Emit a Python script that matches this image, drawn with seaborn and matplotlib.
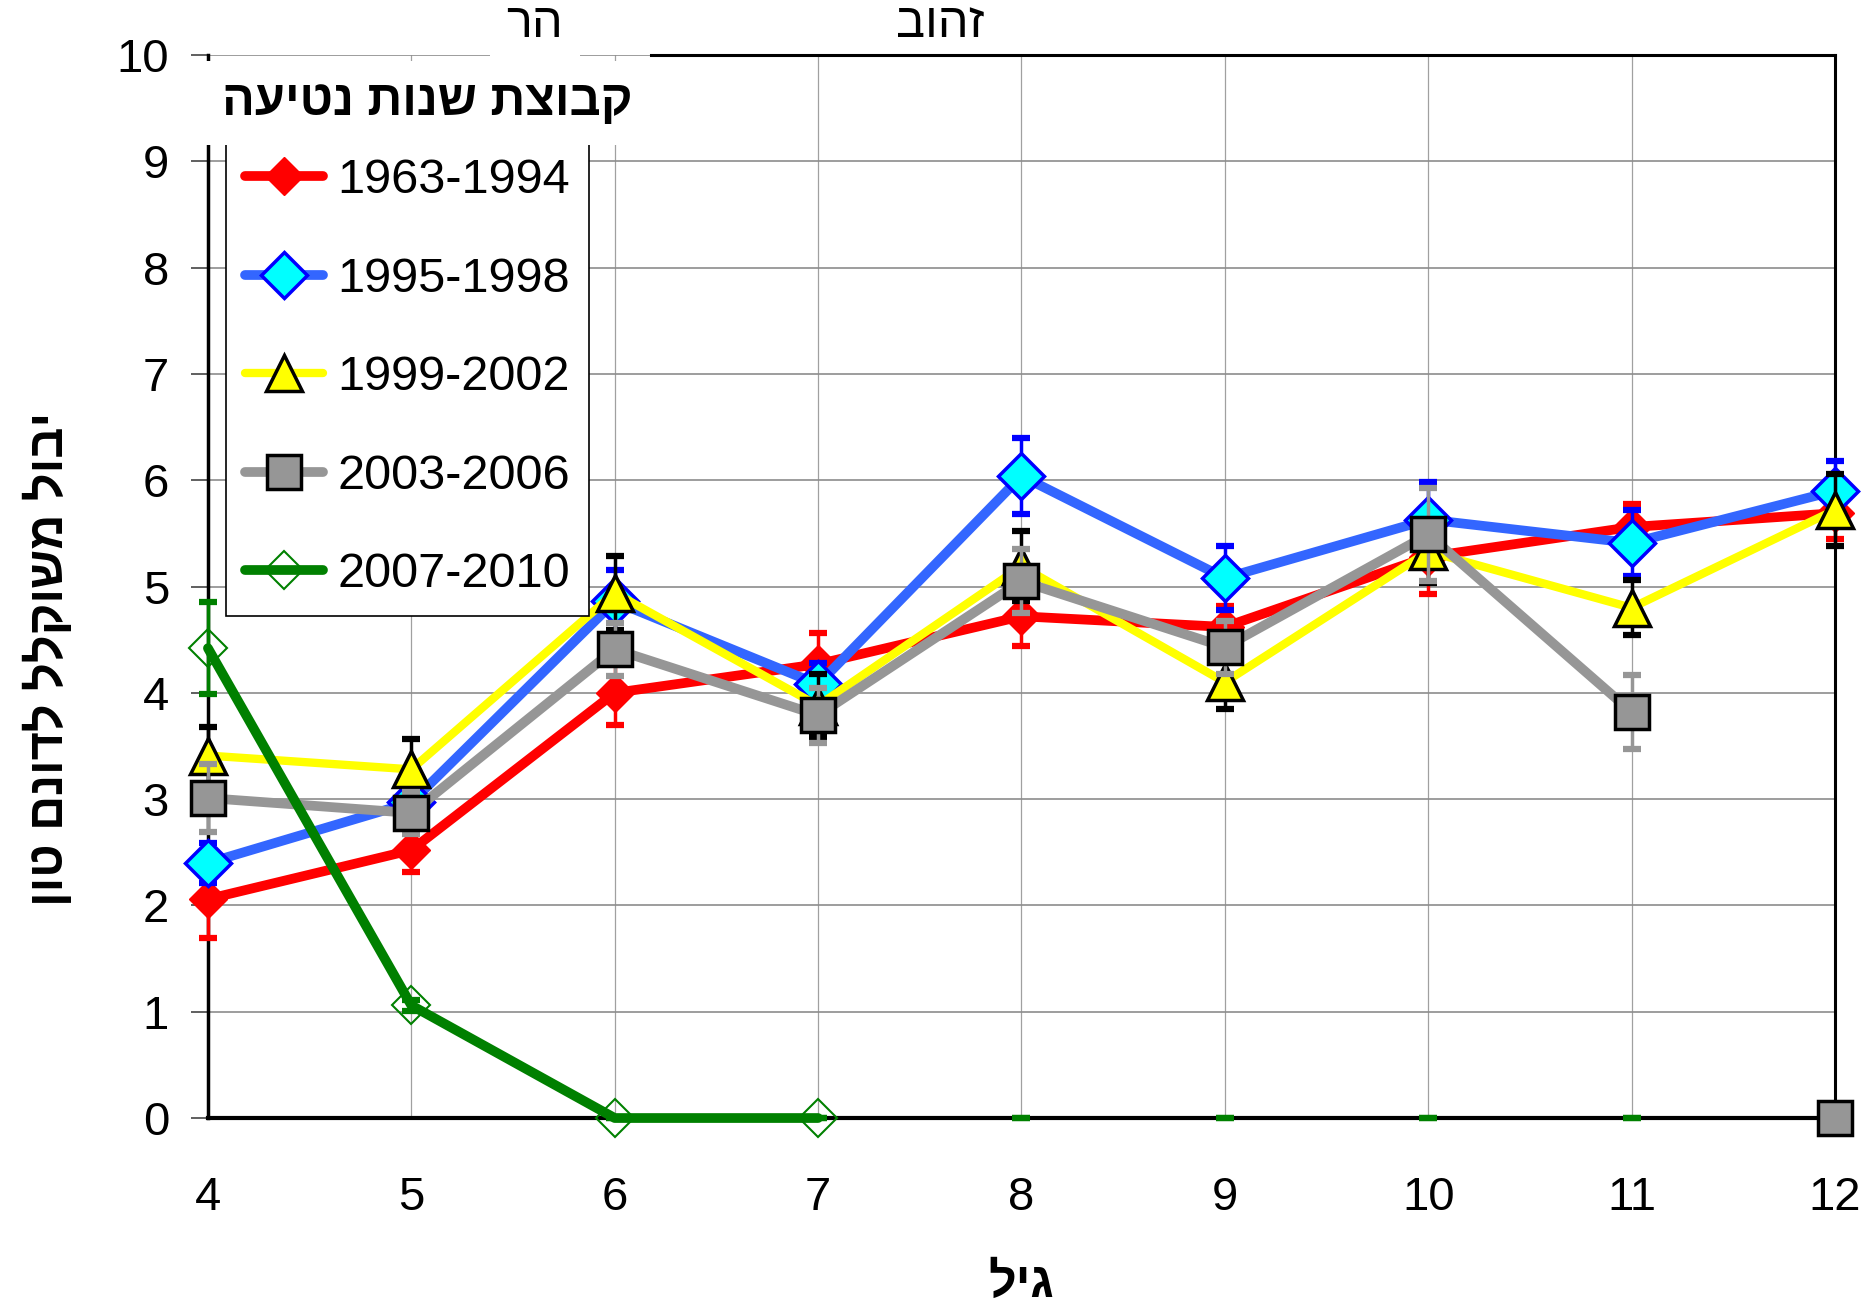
import matplotlib
matplotlib.use("Agg")
import matplotlib.pyplot as plt
import seaborn as sns
import pandas as pd

# values
ages = [4, 5, 6, 7, 8, 9, 10, 11, 12]

y_1963 = [2.06, 2.52, 4.00, 4.27, 4.72, 4.62, 5.28, 5.56, 5.69]
e_1963 = [0.37, 0.21, 0.30, 0.29, 0.28, 0.20, 0.35, 0.22, 0.24]

y_1995 = [2.40, 2.97, 4.86, 4.08, 6.04, 5.08, 5.63, 5.41, 5.90]
e_1995 = [0.19, 0.20, 0.30, 0.20, 0.36, 0.30, 0.35, 0.31, 0.28]

y_1999 = [3.41, 3.28, 4.94, 3.88, 5.19, 4.10, 5.33, 4.80, 5.72]
e_1999 = [0.27, 0.29, 0.35, 0.30, 0.33, 0.25, 0.30, 0.26, 0.34]

y_2003 = [3.01, 2.87, 4.41, 3.79, 5.05, 4.43, 5.49, 3.82, 0.0]
e_2003 = [0.32, 0.20, 0.25, 0.26, 0.30, 0.25, 0.44, 0.35, 0.0]
n_line_2003 = 8   # last point (age 12) is not joined to the line

y_2007 = [4.42, 1.06, 0.0, 0.0, 0.0, 0.0, 0.0, 0.0, 0.0]
e_2007 = [0.43, 0.05, 0.0, 0.0, 0.0, 0.0, 0.0, 0.0, 0.0]
n_line_2007 = 4   # line and markers only for ages 4-7

labels = ['1963-1994', '1995-1998', '1999-2002', '2003-2006', '2007-2010']

ylabel = "יבול משוקלל לדונם טון"
xlabel = "גיל"
legend_title = "קבוצת שנות נטיעה"
top_left = "הר"
top_right = "זהוב"


def rtl(s):
    # matplotlib has no bidi, so feed Hebrew in visual order
    return s[::-1]


sns.set_style("white")
plt.rcParams['font.family'] = ['Liberation Sans', 'DejaVu Sans']
plt.rcParams['text.color'] = 'black'
plt.rcParams['axes.labelcolor'] = 'black'
plt.rcParams['xtick.color'] = 'black'
plt.rcParams['ytick.color'] = 'black'

fig = plt.figure(figsize=(18.65, 13.11), dpi=100)
ax = fig.add_axes([0.1115, 0.1472, 0.8724, 0.8108])

series = [
    # values, errors, n joined, line colour, marker, ms, face, edge, mew, err colour, lw
    (y_1963, e_1963, 9, '#FF0000', 'D', 19, '#FF0000', '#FF0000', 1.0, '#FF0000', 7),
    (y_1995, e_1995, 9, '#3366FF', 'D', 23, '#00FFFF', '#0000FF', 2.5, '#0000FF', 7),
    (y_1999, e_1999, 9, '#FFFF00', '^', 26, '#FFFF00', '#000000', 2.5, '#000000', 6),
    (y_2003, e_2003, n_line_2003, '#969696', 's', 25, '#969696', '#000000', 2.5, '#969696', 7),
    (y_2007, e_2007, n_line_2007, '#008000', 'D', 19, 'none', '#008000', 1.5, '#008000', 7),
]

handles = []
for i, (yv, ev, n, col, mk, ms, fc, ec, mew, ecol, lw) in enumerate(series):
    z = 3 + i
    # green error caps sit under the other markers (they peek out at age 12)
    ez = 2.8 if labels[i] == '2007-2010' else z
    ax.errorbar(ages, yv, yerr=ev, fmt='none', ecolor=ecol, elinewidth=2.5,
                capsize=6.5, capthick=4.5, zorder=ez, clip_on=False)
    df = pd.DataFrame({'age': ages[:n], 'val': yv[:n]})
    sns.lineplot(data=df, x='age', y='val', ax=ax, color=col, lw=lw,
                 marker=mk, markersize=ms, markerfacecolor=fc,
                 markeredgecolor=ec, markeredgewidth=mew, errorbar=None,
                 label=labels[i], clip_on=False, zorder=z + 0.5)
    handles.append(ax.get_lines()[-1])
    if n < len(ages) and labels[i] == '2003-2006':
        ax.plot(ages[n:], yv[n:], ls='none', marker=mk, markersize=ms,
                markerfacecolor=fc, markeredgecolor=ec, markeredgewidth=mew,
                clip_on=False, zorder=z + 0.5)

ax.set_xlim(4, 12)
ax.set_ylim(0, 10)
ax.set_xticks(ages)
ax.set_yticks(range(0, 11))

ax.grid(True, axis='y', color='#8c8c8c', lw=1.2)
ax.grid(True, axis='x', color='#a0a0a0', lw=0.9)
ax.set_axisbelow(True)

for side in ['left', 'bottom', 'right', 'top']:
    ax.spines[side].set_color('black')
ax.spines['left'].set_linewidth(2.5)
ax.spines['bottom'].set_linewidth(3)
ax.spines['right'].set_linewidth(2.2)
ax.spines['top'].set_linewidth(2.2)
ax.spines['top'].set_bounds(6.18, 12)

ax.tick_params(axis='y', direction='out', length=12, width=1.2, color='#444444',
               labelsize=34, pad=16, left=True)
ax.tick_params(axis='x', length=0, labelsize=34, pad=42)

ax.set_xlabel(rtl(xlabel), fontsize=35, fontweight='bold', labelpad=30)
ax.set_ylabel('')
fig.text(0.0257, 0.497, rtl(ylabel), rotation=90, ha='center', va='center',
         fontsize=35, fontweight='bold')

leg = ax.legend(handles, labels, loc='upper left', bbox_to_anchor=(0.011, 0.9206),
                borderaxespad=0, fontsize=35, frameon=True, fancybox=False,
                framealpha=1, edgecolor='black', handlelength=1.61,
                handletextpad=0.29, labelspacing=1.1, borderpad=0.39)
leg.get_frame().set_linewidth(1.2)
leg.set_zorder(20)

ax.text(0.135, 0.955, rtl(legend_title), transform=ax.transAxes, ha='center',
        va='center', fontsize=35, fontweight='bold', zorder=30,
        bbox=dict(fc='white', ec='none', pad=14))
ax.text(0.201, 1.029, rtl(top_left), transform=ax.transAxes, ha='center',
        va='center', fontsize=35, zorder=30, clip_on=False,
        bbox=dict(fc='white', ec='none', pad=12))
ax.text(0.45, 1.029, rtl(top_right), transform=ax.transAxes, ha='center',
        va='center', fontsize=35, zorder=30, clip_on=False)

fig.savefig('out.png', dpi=100, facecolor='white')
